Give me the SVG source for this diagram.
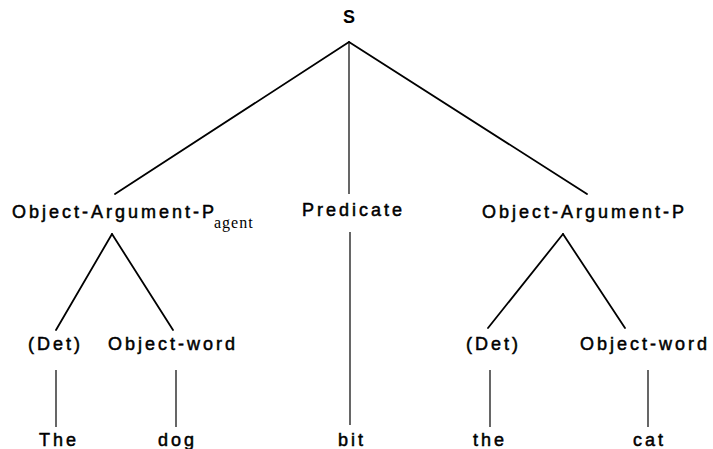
<svg xmlns="http://www.w3.org/2000/svg" width="713" height="449" viewBox="0 0 713 449">
<style>
.e{stroke:#000;stroke-width:1.8;fill:none;stroke-linecap:round}
.v{stroke:#000;stroke-width:1.2;fill:none}
.t{font-family:"Liberation Sans",Arial,sans-serif;font-size:18px;letter-spacing:3px;fill:#000;stroke:#000;stroke-width:0.5}
.sub{font-family:"Liberation Serif","Times New Roman",serif;font-size:16px;letter-spacing:1px;fill:#000}
</style>
<rect width="713" height="449" fill="#fff"/>
<g id="connectors">
<line class="e" x1="349" y1="42" x2="115" y2="194"/>
<line class="v" x1="349" y1="42" x2="349" y2="194"/>
<line class="e" x1="349" y1="42" x2="587" y2="194"/>
<line class="e" x1="112" y1="234" x2="56" y2="330"/>
<line class="e" x1="112" y1="234" x2="173" y2="330"/>
<line class="e" x1="563" y1="234" x2="488" y2="328"/>
<line class="e" x1="563" y1="234" x2="625" y2="328"/>
<line class="v" x1="350" y1="232" x2="350" y2="425"/>
<line class="v" x1="56" y1="370" x2="56" y2="427"/>
<line class="v" x1="176" y1="370" x2="176" y2="427"/>
<line class="v" x1="490" y1="370" x2="490" y2="427"/>
<line class="v" x1="648" y1="370" x2="648" y2="427"/>
</g>
<g id="S"><text x="349" y="23" text-anchor="middle" font-family="Liberation Sans,Arial,sans-serif" font-size="18" font-weight="bold">S</text></g>
<g id="oap-agent"><text class="t" x="12" y="218">Object-Argument-P</text><text class="sub" x="214" y="228">agent</text></g>
<g id="predicate"><text class="t" x="302" y="216">Predicate</text></g>
<g id="oap"><text class="t" x="482" y="218" letter-spacing="3.4">Object-Argument-P</text></g>
<g id="det1"><text class="t" x="28" y="350">(Det)</text></g>
<g id="ow1"><text class="t" x="108" y="350">Object-word</text></g>
<g id="det2"><text class="t" x="466" y="350">(Det)</text></g>
<g id="ow2"><text class="t" x="580" y="350">Object-word</text></g>
<g id="w-The"><text class="t" x="39" y="446">The</text></g>
<g id="w-dog"><text class="t" x="158" y="446">dog</text></g>
<g id="w-bit"><text class="t" x="338" y="446">bit</text></g>
<g id="w-the"><text class="t" x="473" y="446">the</text></g>
<g id="w-cat"><text class="t" x="633" y="446">cat</text></g>
</svg>
